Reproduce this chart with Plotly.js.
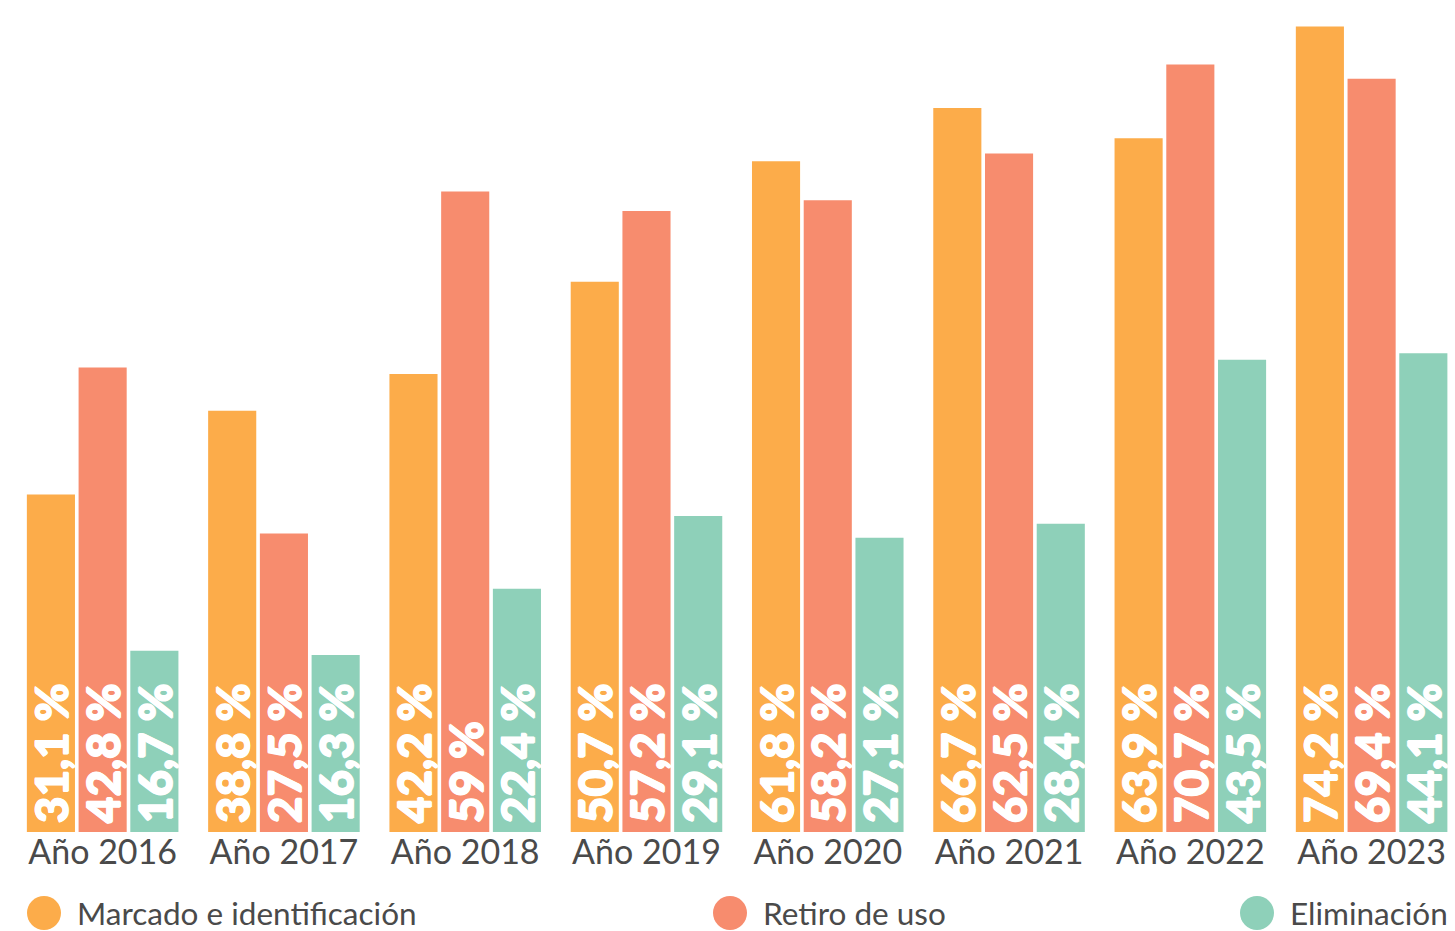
<!DOCTYPE html>
<html>
<head>
<meta charset="utf-8">
<script src="https://cdn.plot.ly/plotly-3.0.1.min.js"></script>
<style>html,body{margin:0;padding:0;background:#fff;}#chart{width:1455px;height:931px;}</style>
</head>
<body>
<div id="chart"></div>
<script>
const categories = ["Año 2016","Año 2017","Año 2018","Año 2019","Año 2020","Año 2021","Año 2022","Año 2023"];
const seriesNames = ["Marcado e identificación","Retiro de uso","Eliminación"];
const marcado = [31.1, 38.8, 42.2, 50.7, 61.8, 66.7, 63.9, 74.2];
const retiro = [42.8, 27.5, 59, 57.2, 58.2, 62.5, 70.7, 69.4];
const eliminacion = [16.7, 16.3, 22.4, 29.1, 27.1, 28.4, 43.5, 44.1];
const colors = ["#FCAC4A", "#F78C6E", "#8ED0B9"];

function fmt(v){ return '\u2009' + String(v).replace('.', ',') + ' %'; }

const series = [marcado, retiro, eliminacion];
const legendIds = ['legend','legend2','legend3'];
const traces = series.map((vals, i) => ({
  type: 'bar',
  name: seriesNames[i],
  x: categories,
  y: vals,
  text: vals.map(fmt),
  textposition: 'inside',
  insidetextanchor: 'start',
  textangle: -90,
  constraintext: 'none',
  cliponaxis: false,
  textfont: {family: 'Lato', size: 46, color: '#ffffff', weight: 900,
    shadow: '0.8px 0 0 #fff, -0.8px 0 0 #fff, 0 0.8px 0 #fff, 0 -0.8px 0 #fff'},
  marker: {color: colors[i], line: {width: 0}},
  hoverinfo: 'x+y+name',
  legend: legendIds[i],
  showlegend: true
}));

const legFont = {family: 'Lato', size: 31.5, color: '#4a4a4a'};
function leg(xpx){
  return {orientation: 'h', xref: 'container', yref: 'container', x: xpx/1455, y: 1 - 913/931,
    xanchor: 'left', yanchor: 'middle', font: legFont, bgcolor: 'rgba(0,0,0,0)', itemwidth: 56, borderwidth: 0};
}

const layout = {
  width: 1455, height: 931,
  margin: {l: 12, r: 0, t: 7, b: 99},
  paper_bgcolor: '#ffffff', plot_bgcolor: '#ffffff',
  barmode: 'group', bargap: 0.144, bargroupgap: 0.07,
  showlegend: true,
  legend: leg(11), legend2: leg(697), legend3: leg(1224),
  xaxis: {type: 'category', range: [-0.5, 7.46], showgrid: false, zeroline: false, showline: false,
    ticks: '', ticklabelstandoff: -3, tickfont: {family: 'Lato', size: 34, color: '#4a4a4a'}, fixedrange: true},
  yaxis: {range: [0, 76], showgrid: false, zeroline: false, showline: false, showticklabels: false, ticks: '', fixedrange: true},
  font: {family: 'Lato'}
};

Plotly.newPlot('chart', traces, layout, {displayModeBar: false, staticPlot: true}).then(() => {
  const r = 17;
  const circ = `M${r},0A${r},${r} 0 1,1 0,-${r}A${r},${r} 0 0,1 ${r},0Z`;
  document.querySelectorAll('.legendpoints path').forEach(p => {
    p.setAttribute('d', circ);
    p.style.strokeWidth = '0';
  });
});
</script>
</body>
</html>
